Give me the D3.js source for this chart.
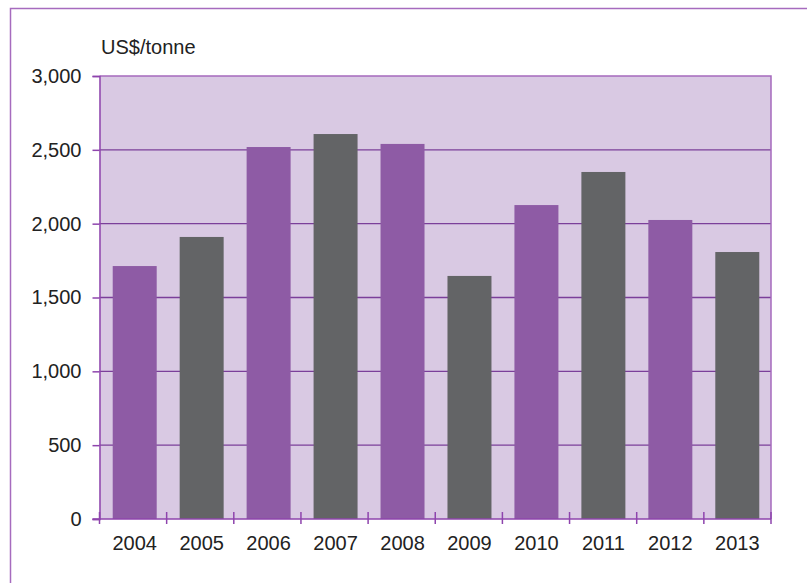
<!DOCTYPE html>
<html>
<head>
<meta charset="utf-8">
<script src="https://cdn.jsdelivr.net/npm/d3@7"></script>
<style>
  html, body { margin: 0; padding: 0; background: #fff; }
  svg { display: block; font-family: "Liberation Sans", Arial, sans-serif; }
</style>
</head>
<body>
<svg id="chart" width="807" height="583"></svg>
<script>
// Annual average price, US$/tonne
const years = ["2004", "2005", "2006", "2007", "2008", "2009", "2010", "2011", "2012", "2013"];
const prices = [1713, 1910, 2519, 2607, 2540, 1646, 2126, 2350, 2025, 1808];
const yTicks = [0, 500, 1000, 1500, 2000, 2500, 3000];
const unitLabel = "US$/tonne";

const colorPurple = "#8e5ba5";
const colorGrey = "#636466";
const axisColor = "#8e44ad";

const svg = d3.select("#chart");
const W = 807, H = 583;
const plotLeft = 99.5, plotRight = 771, plotTop = 76, plotBottom = 519;

// outer frame
svg.append("rect")
  .attr("x", 10.5).attr("y", 8.5)
  .attr("width", W + 20).attr("height", H + 20)
  .attr("fill", "none").attr("stroke", "#a66bbe").attr("stroke-width", 1.5);

const x = d3.scaleBand()
  .domain(years)
  .range([101, plotRight])
  .paddingInner(0.343)
  .paddingOuter(0.175);

const y = d3.scaleLinear()
  .domain([0, 3000])
  .range([plotBottom, plotTop]);

// plot background
svg.append("rect")
  .attr("x", plotLeft).attr("y", y(3000))
  .attr("width", plotRight - plotLeft)
  .attr("height", y(0) - y(3000))
  .attr("fill", "#d9c9e3");

// horizontal gridlines
svg.append("g")
  .selectAll("line")
  .data(yTicks.filter(d => d > 0 && d < 3000))
  .join("line")
  .attr("x1", plotLeft).attr("x2", plotRight)
  .attr("y1", d => y(d)).attr("y2", d => y(d))
  .attr("stroke", "#7b3f9a").attr("stroke-width", 1.3);

// bars
svg.append("g")
  .selectAll("rect")
  .data(years)
  .join("rect")
  .attr("x", d => x(d))
  .attr("width", x.bandwidth())
  .attr("y", (d, i) => y(prices[i]))
  .attr("height", (d, i) => y(0) - y(prices[i]))
  .attr("fill", (d, i) => i % 2 === 0 ? colorPurple : colorGrey);

// plot border (top and right)
svg.append("path")
  .attr("d", `M${plotLeft},${y(3000)}H${plotRight}V${y(0)}`)
  .attr("fill", "none").attr("stroke", "#a569bd").attr("stroke-width", 1.5);

// y axis
const yAxis = svg.append("g")
  .attr("transform", `translate(${plotLeft},0)`)
  .call(d3.axisLeft(y).tickValues(yTicks).tickFormat(d3.format(",")).tickSize(7).tickPadding(11));
yAxis.select(".domain").attr("stroke", axisColor).attr("stroke-width", 1.5);
yAxis.selectAll(".tick line").attr("stroke", axisColor).attr("stroke-width", 1.5);
yAxis.selectAll(".tick text")
  .attr("font-size", 20).attr("fill", "#222")
  .attr("font-family", "Liberation Sans, Arial, sans-serif");

// x axis: ticks at category boundaries
const xAxisG = svg.append("g").attr("class", "x-axis");
xAxisG.append("line")
  .attr("x1", plotLeft - 7).attr("x2", plotRight)
  .attr("y1", y(0)).attr("y2", y(0))
  .attr("stroke", axisColor).attr("stroke-width", 1.5);
const boundaries = d3.range(years.length + 1)
  .map(i => plotLeft + (plotRight - plotLeft) * i / years.length);
xAxisG.selectAll("line.tick")
  .data(boundaries)
  .join("line")
  .attr("class", "tick")
  .attr("x1", d => d).attr("x2", d => d)
  .attr("y1", y(0) - 7).attr("y2", y(0) + 5)
  .attr("stroke", axisColor).attr("stroke-width", 1.5);
xAxisG.selectAll("text")
  .data(years)
  .join("text")
  .attr("x", d => x(d) + x.bandwidth() / 2)
  .attr("y", 550)
  .attr("text-anchor", "middle")
  .attr("font-size", 20)
  .attr("fill", "#222")
  .text(d => d);

// unit label
svg.append("text")
  .attr("x", 101)
  .attr("y", 54)
  .attr("font-size", 20)
  .attr("fill", "#222")
  .text(unitLabel);
</script>
</body>
</html>
